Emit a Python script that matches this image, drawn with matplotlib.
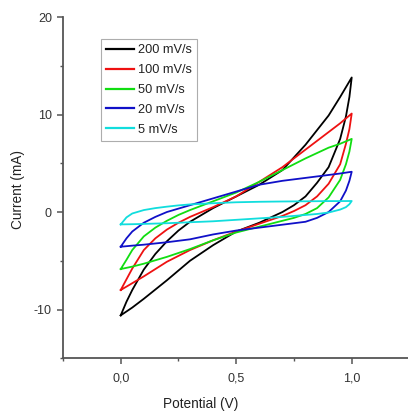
import matplotlib
matplotlib.use('Agg')
import matplotlib.pyplot as plt
from matplotlib.ticker import MultipleLocator

# forward (0 -> 1 V) branches
v_up = [0.0, 0.025, 0.05, 0.1, 0.15, 0.2, 0.25, 0.3, 0.4, 0.5, 0.6, 0.7, 0.8, 0.9, 0.95, 1.0]
i_up_200 = [-10.6, -9.2, -8.0, -5.9, -4.3, -3.0, -1.9, -1.0, 0.4, 1.6, 2.8, 4.3, 6.9, 9.9, 11.8, 13.8]
i_up_100 = [-8.0, -6.9, -5.8, -3.9, -2.7, -1.8, -1.1, -0.5, 0.5, 1.6, 3.1, 4.6, 6.4, 8.2, 9.1, 10.1]
i_up_50 = [-5.85, -4.9, -3.9, -2.5, -1.6, -0.9, -0.3, 0.2, 1.1, 2.0, 3.1, 4.3, 5.5, 6.6, 7.0, 7.5]
i_up_20 = [-3.56, -2.7, -2.0, -1.1, -0.5, 0.0, 0.35, 0.7, 1.4, 2.1, 2.8, 3.2, 3.5, 3.8, 3.95, 4.13]
i_up_5 = [-1.27, -0.55, -0.15, 0.2, 0.4, 0.55, 0.68, 0.78, 0.9, 1.0, 1.05, 1.08, 1.1, 1.12, 1.12, 1.13]

# reverse (1 -> 0 V) branches
v_down = [1.0, 0.99, 0.975, 0.95, 0.9, 0.85, 0.8, 0.75, 0.7, 0.6, 0.5, 0.4, 0.3, 0.2, 0.1, 0.05, 0.0]
i_down_200 = [13.8, 11.8, 9.8, 7.5, 4.6, 3.0, 1.6, 0.7, 0.0, -1.1, -2.0, -3.4, -5.0, -7.0, -8.9, -9.8, -10.6]
i_down_100 = [10.1, 8.5, 7.0, 4.9, 2.9, 1.6, 0.7, 0.1, -0.4, -1.2, -2.0, -2.9, -3.9, -5.1, -6.6, -7.3, -8.0]
i_down_50 = [7.5, 6.2, 4.9, 3.3, 1.5, 0.4, -0.2, -0.6, -0.9, -1.5, -2.1, -2.9, -3.8, -4.6, -5.3, -5.6, -5.85]
i_down_20 = [4.13, 3.2, 2.2, 1.1, 0.0, -0.6, -1.0, -1.15, -1.3, -1.6, -1.9, -2.3, -2.8, -3.1, -3.35, -3.45, -3.56]
i_down_5 = [1.13, 0.8, 0.5, 0.25, -0.05, -0.2, -0.3, -0.4, -0.5, -0.65, -0.8, -0.95, -1.05, -1.15, -1.22, -1.25, -1.27]

labels = ['200 mV/s', '100 mV/s', '50 mV/s', '20 mV/s', '5 mV/s']
colors = ['black', '#ee1111', '#11dd11', '#1010c8', '#11dddd']

x_ticks = [0.0, 0.5, 1.0]
x_ticklabels = ['0,0', '0,5', '1,0']
y_ticks = [-10, 0, 10, 20]
y_ticklabels = ['-10', '0', '10', '20']


def main():
    plt.rcParams['font.family'] = ['Liberation Sans', 'DejaVu Sans']

    fig = plt.figure(figsize=(4.08, 4.15), dpi=100)
    ax = fig.add_axes([0.1543, 0.1367, 0.8493, 0.8223])

    ups = [i_up_200, i_up_100, i_up_50, i_up_20, i_up_5]
    downs = [i_down_200, i_down_100, i_down_50, i_down_20, i_down_5]
    for up, down, lab, col in zip(ups, downs, labels, colors):
        ax.plot(v_up + v_down, up + down, color=col, linewidth=1.3, label=lab)

    ax.set_xlim(-0.25, 1.25)
    ax.set_ylim(-15, 20)

    for side in ['top', 'right']:
        ax.spines[side].set_visible(False)
    for side in ['left', 'bottom']:
        ax.spines[side].set_color('#555555')
        ax.spines[side].set_linewidth(1.3)

    ax.set_xticks(x_ticks)
    ax.set_xticklabels(x_ticklabels)
    ax.set_yticks(y_ticks)
    ax.set_yticklabels(y_ticklabels)
    ax.xaxis.set_minor_locator(MultipleLocator(0.25))
    ax.yaxis.set_minor_locator(MultipleLocator(5))
    ax.tick_params(which='major', direction='out', length=4, width=1.1,
                   color='#555555', labelsize=9, labelcolor='#333333', pad=4)
    ax.tick_params(axis='x', which='major', pad=6)
    ax.tick_params(which='minor', direction='out', length=2.5, width=1.0, color='#555555')

    ax.set_xlabel('Potential (V)', fontsize=9.8, color='#222222')
    ax.set_ylabel('Current (mA)', fontsize=9.8, color='#222222')
    ax.xaxis.set_label_coords(0.398, -0.113)
    ax.yaxis.set_label_coords(-0.11, 0.495)

    leg = ax.legend(loc='upper left', bbox_to_anchor=(0.11, 0.9355), borderaxespad=0,
                    fontsize=9.2, frameon=True, fancybox=False, handlelength=2.2,
                    handletextpad=0.3, labelspacing=0.62, borderpad=0.4)
    leg.get_frame().set_edgecolor('#999999')
    leg.get_frame().set_linewidth(0.8)
    for line in leg.get_lines():
        line.set_linewidth(1.6)
    for t in leg.get_texts():
        t.set_color('#222222')

    plt.savefig('out.png', dpi=100)


if __name__ == "__main__":
    main()
